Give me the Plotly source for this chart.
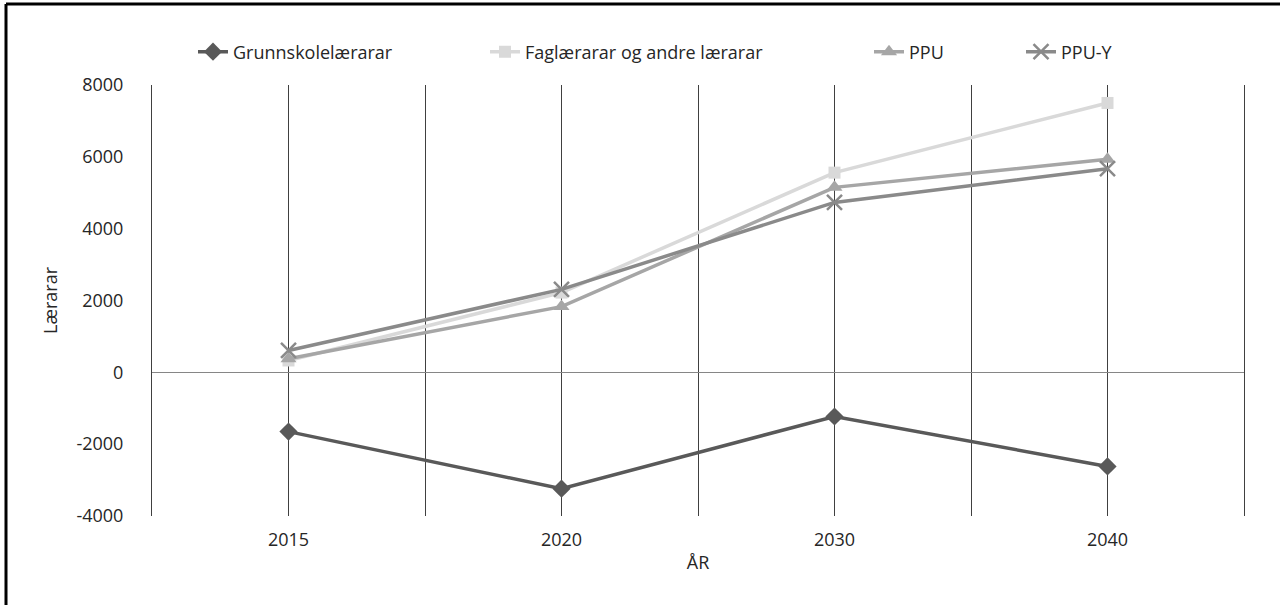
import plotly.graph_objects as go

years = ["2015", "2020", "2030", "2040"]
grunnskule = [-1650, -3240, -1230, -2620]
faglaerarar = [330, 2220, 5560, 7500]
ppu = [380, 1830, 5150, 5930]
ppu_y = [610, 2310, 4730, 5670]
y_ticks = [-4000, -2000, 0, 2000, 4000, 6000, 8000]
y_ticktext = ["-4000", "-2000", "0", "2000", "4000", "6000", "8000"]

xpos = list(range(len(years)))

L, R, T, B = 152, 36, 85, 89
W, H = 1280, 605
pw, ph = W - L - R, H - T - B
FS = 18
TXT = "#262626"
font = "Open Sans, Noto Sans, sans-serif"

series = [
    ("Grunnskolelærarar", grunnskule, "#595959", "diamond", 14, "legend", 235),
    ("Faglærarar og andre lærarar", faglaerarar, "#d9d9d9", "square", 12, "legend2", 527),
    ("PPU", ppu, "#a6a6a6", "triangle-up", 14, "legend3", 911),
    ("PPU-Y", ppu_y, "#8a8a8a", "x-thin", 15, "legend4", 1063),
]

fig = go.Figure()
legends = {}
for name, vals, color, sym, size, leg, text_x in series:
    marker = dict(symbol=sym, size=size, color=color)
    if sym == "x-thin":
        marker["line"] = dict(color=color, width=2.5)
    fig.add_trace(go.Scatter(
        x=xpos, y=vals, name=name, mode="lines+markers",
        line=dict(color=color, width=3.5), marker=marker, legend=leg,
    ))
    legends[leg] = dict(
        orientation="h", x=(text_x - 42 - L) / pw, xanchor="left",
        y=(H - B - 52) / ph, yanchor="middle",
        font=dict(size=FS, color=TXT), bgcolor="rgba(0,0,0,0)",
    )

fig.update_layout(
    width=W, height=H,
    margin=dict(l=L, r=R, t=T, b=B, autoexpand=False),
    plot_bgcolor="white", paper_bgcolor="white",
    font=dict(family=font, size=FS, color=TXT),
    showlegend=True,
    xaxis=dict(
        range=[-0.5, len(years) - 0.5],
        tickvals=xpos, ticktext=years,
        showgrid=True, gridcolor="#404040", gridwidth=1,
        minor=dict(tick0=0.5, dtick=1, showgrid=True, gridcolor="#404040", gridwidth=1),
        zeroline=False, showline=False,
        title=dict(text="ÅR", standoff=6, font=dict(size=FS, color=TXT)),
        ticklabelstandoff=11,
        tickfont=dict(size=FS, color=TXT),
    ),
    yaxis=dict(
        range=[-4000, 8000], tickvals=y_ticks, ticktext=y_ticktext,
        showgrid=False, zeroline=True, zerolinecolor="#868686", zerolinewidth=1,
        showline=True, mirror=True, linecolor="#404040", linewidth=1,
        title=dict(text="Lærarar", standoff=14, font=dict(size=FS, color=TXT)),
        ticklabelstandoff=24,
        tickfont=dict(size=FS, color=TXT),
    ),
    **legends,
)

# outer frame (left and top edges visible)
lx = (6 - L) / pw
ty = (H - B - 4) / ph
fig.add_shape(type="line", xref="paper", yref="paper", x0=lx, x1=lx, y0=ty, y1=-0.3,
              line=dict(color="black", width=3))
fig.add_shape(type="line", xref="paper", yref="paper", x0=lx, x1=1.2, y0=ty, y1=ty,
              line=dict(color="black", width=3))

fig.write_html("out.html", config={"displayModeBar": False},
               post_script="document.body.style.margin='0';")
